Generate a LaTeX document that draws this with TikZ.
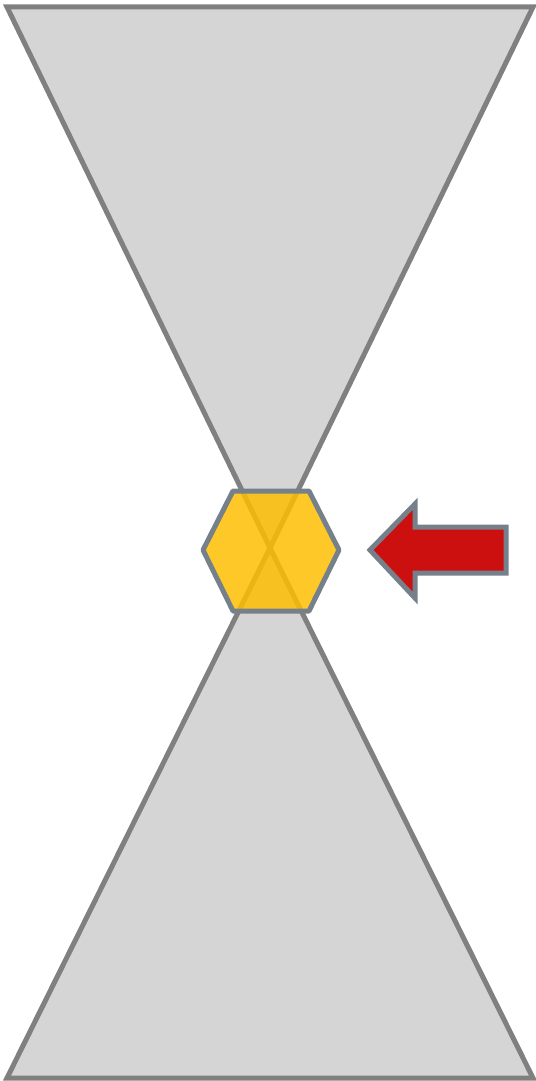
\documentclass[tikz,border=0pt]{standalone}
\usetikzlibrary{positioning, calc}

\definecolor{coneFill}{HTML}{D5D5D5}
\definecolor{coneEdge}{HTML}{808080}
\definecolor{slateEdge}{HTML}{76808A}
\definecolor{hexYellow}{HTML}{FFBE00}
\definecolor{arrowRed}{HTML}{CC1010}

\begin{document}
\begin{tikzpicture}[
    x=0.02cm, y=-0.02cm,
    cone/.style={fill=coneFill, draw=coneEdge, line width=0.1cm},
    crystal/.style={fill=hexYellow, fill opacity=0.84, draw=slateEdge, draw opacity=1, line width=0.1cm, line join=round},
    pointer/.style={fill=arrowRed, draw=slateEdge, line width=0.1cm}
]
    \useasboundingbox (0,0) rectangle (535,1081);

    % Corners
    \coordinate (TL) at (7,7);
    \coordinate (TR) at (533,7);
    \coordinate (BL) at (7,1078);
    \coordinate (BR) at (533,1078);
    \coordinate (apex) at (270,548);

    % Cones
    \draw[cone] (TL) -- (TR) -- (apex) -- cycle;
    \draw[cone] (BL) -- (BR) -- (apex) -- cycle;

    % Hexagon
    \coordinate (hex) at (271,550);
    \draw[crystal] ($(hex)+(-68,0)$) -- ($(hex)+(-38,-59)$) -- ($(hex)+(38,-59)$)
        -- ($(hex)+(68,0)$) -- ($(hex)+(38,61)$) -- ($(hex)+(-38,61)$) -- cycle;

    % Arrow
    \draw[pointer] (370,550) -- (415,504) -- (415,527) -- (506,527)
        -- (506,573) -- (415,573) -- (415,598) -- cycle;
\end{tikzpicture}
\end{document}
